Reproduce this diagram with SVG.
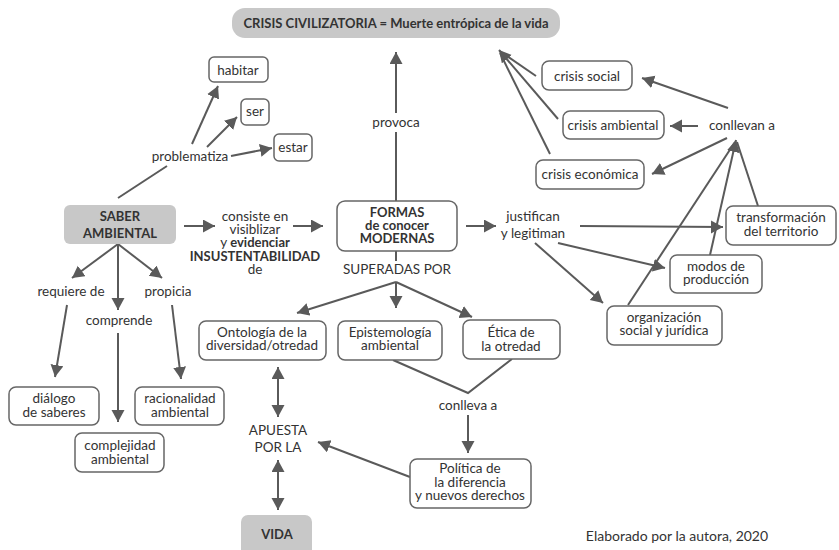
<svg xmlns="http://www.w3.org/2000/svg" width="839" height="550" viewBox="0 0 839 550">
<style>
text{font-family:Lato,"Open Sans","Liberation Sans",sans-serif;font-size:13.5px;fill:#333;text-anchor:middle}
.b{font-weight:bold;font-size:13px}
.box{fill:#fff;stroke:#666;stroke-width:1.5}
.gbox{fill:#c8c8c8;stroke:none}
.c line,.c polyline{stroke:#5a5a5a;stroke-width:2;fill:none}
.a{marker-end:url(#ah)}
.d{marker-start:url(#ah);marker-end:url(#ah)}
</style>
<defs>
<marker id="ah" markerUnits="userSpaceOnUse" markerWidth="13" markerHeight="14" refX="12" refY="6.5" orient="auto-start-reverse" viewBox="0 0 13 14">
<path d="M0,0 L12,6.5 L0,13 z" fill="#5a5a5a"/>
</marker>
</defs>
<rect width="839" height="550" fill="#fff"/>
<g class="c" id="connectors">
<line x1="118" y1="198" x2="167" y2="166"/>
<line class="a" x1="192" y1="144" x2="218" y2="86"/>
<line class="a" x1="207" y1="147" x2="237" y2="117"/>
<line class="a" x1="231" y1="156" x2="272" y2="148"/>
<line class="a" x1="184" y1="226" x2="215" y2="226"/>
<line class="a" x1="293" y1="226" x2="323" y2="226"/>
<line x1="396" y1="201" x2="396" y2="132"/>
<line class="a" x1="396" y1="113" x2="396" y2="52"/>
<line x1="396" y1="251" x2="396" y2="261"/>
<line class="a" x1="396" y1="282" x2="297" y2="313"/>
<line class="a" x1="396" y1="282" x2="396" y2="308"/>
<line class="a" x1="396" y1="282" x2="472" y2="317"/>
<polyline points="393,360 468,393 512,359"/>
<line class="a" x1="468" y1="415" x2="468" y2="453"/>
<line class="a" x1="410" y1="477" x2="318" y2="442"/>
<line class="d" x1="278" y1="367" x2="278" y2="417"/>
<line class="d" x1="278" y1="460" x2="278" y2="510"/>
<line class="a" x1="118" y1="244" x2="72" y2="278"/>
<line class="a" x1="118" y1="244" x2="118" y2="310"/>
<line class="a" x1="118" y1="244" x2="162" y2="278"/>
<line class="a" x1="67" y1="305" x2="55" y2="377"/>
<line class="a" x1="118" y1="333" x2="118" y2="422"/>
<line class="a" x1="172" y1="305" x2="181" y2="379"/>
<line class="a" x1="466" y1="226" x2="496" y2="226"/>
<line class="a" x1="580" y1="226" x2="723" y2="227"/>
<line class="a" x1="558" y1="243" x2="665" y2="268"/>
<line class="a" x1="535" y1="243" x2="603" y2="303"/>
<line x1="758" y1="206" x2="737" y2="142"/>
<line class="a" x1="710" y1="255" x2="736" y2="140"/>
<line x1="628" y1="305" x2="735" y2="142"/>
<line class="a" x1="728" y1="108" x2="642" y2="78"/>
<line class="a" x1="698" y1="126" x2="670" y2="126"/>
<line class="a" x1="727" y1="138" x2="652" y2="174"/>
<line x1="536" y1="76" x2="501" y2="52"/>
<line class="a" x1="558" y1="119" x2="499" y2="50"/>
<line x1="550" y1="154" x2="500" y2="53"/>
</g>
<g id="crisis-civilizatoria"><rect class="gbox" x="232" y="8" width="328" height="30" rx="13"/><text class="b" x="396" y="28">CRISIS CIVILIZATORIA = Muerte entrópica de la vida</text></g>
<g id="habitar"><rect class="box" x="209" y="57" width="59" height="25" rx="5"/><text x="238" y="75">habitar</text></g>
<g id="ser"><rect class="box" x="241" y="99" width="28" height="26" rx="5"/><text x="255" y="116">ser</text></g>
<g id="estar"><rect class="box" x="274" y="134" width="38" height="27" rx="5"/><text x="293" y="152">estar</text></g>
<g id="lbl-problematiza"><text x="190" y="161">problematiza</text></g>
<g id="saber-ambiental"><rect class="gbox" x="64" y="205" width="112" height="39" rx="6"/><text class="b" x="120" y="221">SABER<tspan x="120" y="238">AMBIENTAL</tspan></text></g>
<g id="lbl-consiste"><text x="255" y="221">consiste en<tspan x="255" y="234">visiblizar</tspan><tspan x="255" y="247">y <tspan class="b">evidenciar</tspan></tspan><tspan class="b" x="255" y="261">INSUSTENTABILIDAD</tspan><tspan x="255" y="274">de</tspan></text></g>
<g id="formas"><rect class="box" x="337" y="201" width="120" height="50" rx="8" stroke-width="2"/><text class="b" x="397" y="217">FORMAS<tspan x="397" y="230">de conocer</tspan><tspan x="397" y="243">MODERNAS</tspan></text></g>
<g id="lbl-provoca"><text x="396" y="127">provoca</text></g>
<g id="lbl-superadas"><text x="397" y="274">SUPERADAS POR</text></g>
<g id="ontologia"><rect class="box" x="199" y="321" width="127" height="39" rx="7"/><text x="262" y="337">Ontología de la<tspan x="262" y="350">diversidad/otredad</tspan></text></g>
<g id="epistemologia"><rect class="box" x="338" y="321" width="104" height="39" rx="7"/><text x="390" y="337">Epistemología<tspan x="390" y="350">ambiental</tspan></text></g>
<g id="etica"><rect class="box" x="463" y="320" width="97" height="39" rx="7"/><text x="511" y="337">Ética de<tspan x="511" y="351">la otredad</tspan></text></g>
<g id="lbl-conlleva"><text x="468" y="410">conlleva a</text></g>
<g id="politica"><rect class="box" x="410" y="459" width="121" height="49" rx="7"/><text x="470" y="473">Política de<tspan x="470" y="487">la diferencia</tspan><tspan x="470" y="500">y nuevos derechos</tspan></text></g>
<g id="lbl-apuesta"><text x="278" y="435">APUESTA<tspan x="278" y="452">POR LA</tspan></text></g>
<g id="vida"><rect class="gbox" x="241" y="515" width="71" height="42" rx="7"/><text class="b" x="277" y="539">VIDA</text></g>
<g id="lbl-requiere"><text x="71" y="296">requiere de</text></g>
<g id="lbl-comprende"><text x="119" y="325">comprende</text></g>
<g id="lbl-propicia"><text x="168" y="296">propicia</text></g>
<g id="dialogo"><rect class="box" x="9" y="387" width="90" height="38" rx="7"/><text x="54" y="403">diálogo<tspan x="54" y="417">de saberes</tspan></text></g>
<g id="racionalidad"><rect class="box" x="135" y="387" width="89" height="38" rx="7"/><text x="180" y="403">racionalidad<tspan x="180" y="417">ambiental</tspan></text></g>
<g id="complejidad"><rect class="box" x="75" y="433" width="89" height="39" rx="7"/><text x="120" y="450">complejidad<tspan x="120" y="464">ambiental</tspan></text></g>
<g id="lbl-justifican"><text x="533" y="221">justifican<tspan x="533" y="238">y legitiman</tspan></text></g>
<g id="crisis-social"><rect class="box" x="542" y="61" width="90" height="29" rx="7"/><text x="587" y="81">crisis social</text></g>
<g id="crisis-ambiental"><rect class="box" x="563" y="111" width="101" height="28" rx="7"/><text x="613" y="130">crisis ambiental</text></g>
<g id="crisis-economica"><rect class="box" x="536" y="160" width="108" height="29" rx="7"/><text x="590" y="179">crisis económica</text></g>
<g id="lbl-conllevan"><text x="742" y="130">conllevan a</text></g>
<g id="transformacion"><rect class="box" x="726" y="206" width="110" height="39" rx="7"/><text x="781" y="222">transformación<tspan x="781" y="236">del territorio</tspan></text></g>
<g id="modos"><rect class="box" x="670" y="255" width="92" height="38" rx="7"/><text x="716" y="271">modos de<tspan x="716" y="284">producción</tspan></text></g>
<g id="organizacion"><rect class="box" x="607" y="306" width="115" height="39" rx="7"/><text x="664" y="322">organización<tspan x="664" y="335">social y jurídica</tspan></text></g>
<g id="footer"><text x="677" y="541" style="font-size:14px">Elaborado por la autora, 2020</text></g>
</svg>
